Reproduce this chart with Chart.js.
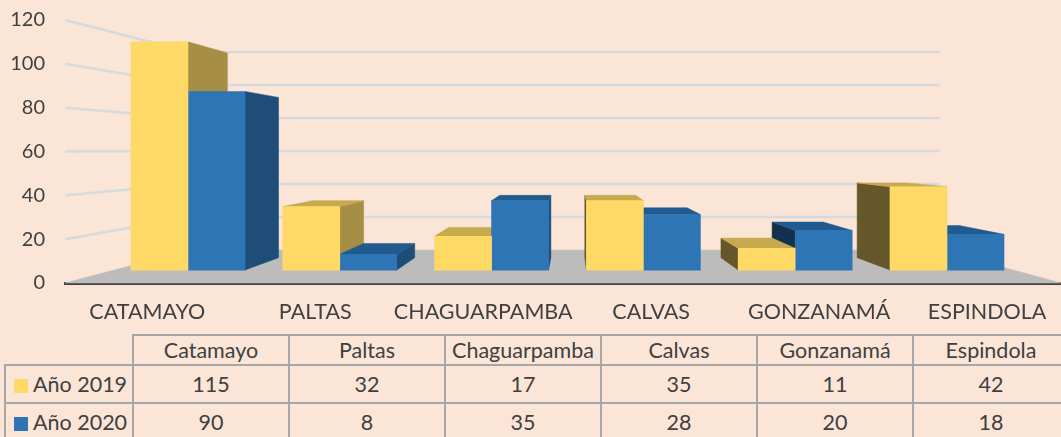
<!DOCTYPE html>
<html lang="es">
<head>
<meta charset="UTF-8">
<title>Año 2019 - Año 2020</title>
<script src="https://cdn.jsdelivr.net/npm/chart.js"></script>
<style>
  body {
    margin: 0;
    width: 1061px;
    height: 437px;
    overflow: hidden;
    position: relative;
    background: #FBE5D6;
    font-family: Lato, sans-serif;
    color: #404040;
  }
  #caja-grafico {
    position: absolute;
    left: 0;
    top: 0;
    width: 1061px;
    height: 333px;
  }
  #tabla {
    position: absolute;
    left: 4px;
    top: 334px;
    width: 1066px;
    border-collapse: collapse;
    table-layout: fixed;
    font-size: 21.5px;
  }
  #tabla td {
    border: 2px solid #A6A6A6;
    text-align: center;
    padding: 0;
    white-space: nowrap;
    overflow: hidden;
  }
  #tabla tr.cabecera td { height: 28px; }
  #tabla tr.datos td { height: 36px; }
  #tabla td.esquina { border-top: none; border-left: none; }
  #tabla td.serie { text-align: left; }
  .clave {
    display: inline-block;
    width: 14px;
    height: 14px;
    margin: 0 5px 0 8px;
    vertical-align: -1px;
  }
</style>
</head>
<body>

<div id="caja-grafico">
  <canvas id="grafico"></canvas>
</div>

<table id="tabla">
  <colgroup>
    <col style="width:128px">
    <col style="width:156px"><col style="width:156px"><col style="width:156px">
    <col style="width:156px"><col style="width:156px"><col style="width:156px">
  </colgroup>
  <tbody id="cuerpo"></tbody>
</table>

<script>
// datos
var municipiosEje = ['CATAMAYO', 'PALTAS', 'CHAGUARPAMBA', 'CALVAS', 'GONZANAMÁ', 'ESPINDOLA'];
var municipios = ['Catamayo', 'Paltas', 'Chaguarpamba', 'Calvas', 'Gonzanamá', 'Espindola'];
var series = ['Año 2019', 'Año 2020'];
var anio2019 = [115, 32, 17, 35, 11, 42];
var anio2020 = [90, 8, 35, 28, 20, 18];
var ticksY = [0, 20, 40, 60, 80, 100, 120];

// colores: frente, lado derecho, lado izquierdo, techo
var colores = [
    { frente: '#FFD966', der: '#A68F45', izq: '#66572A', techo: '#C7A94E' },
    { frente: '#2E75B6', der: '#1F4D79', izq: '#13304F', techo: '#215A8F' }
];

// perspectiva tipo excel 3D
var PF = { x: 571, y: 149.4 };   // punto de fuga
var FONDO_BARRA = 0.897;          // cara trasera de las barras
var PARED = 0.753;                // pared del fondo

Chart.defaults.font.family = 'Lato';
Chart.defaults.font.size = 20;
Chart.defaults.color = '#404040';

function atras(x, y, k) {
    return [PF.x + (x - PF.x) * k, PF.y + (y - PF.y) * k];
}

function poligono(ctx, puntos, color) {
    ctx.beginPath();
    ctx.moveTo(puntos[0][0], puntos[0][1]);
    for (var i = 1; i < puntos.length; i++) ctx.lineTo(puntos[i][0], puntos[i][1]);
    ctx.closePath();
    ctx.fillStyle = color;
    ctx.strokeStyle = color;
    ctx.lineWidth = 0.5;
    ctx.fill();
    ctx.stroke();
}

var efecto3d = {
    id: 'efecto3d',
    beforeDatasetsDraw: function (chart) {
        var ctx = chart.ctx;
        var area = chart.chartArea;
        var yt = chart.scales.yTicks;
        ctx.save();

        // piso
        var y0 = yt.getPixelForValue(0);
        var a = atras(area.left, y0, PARED);
        var b = atras(area.right, y0, PARED);
        poligono(ctx, [[area.left, y0], a, b, [area.right, y0]], '#BCBCBC');

        // lineas de la pared
        ctx.strokeStyle = '#D5DADF';
        ctx.lineWidth = 2.5;
        yt.ticks.forEach(function (t) {
            if (t.value === 0) return;
            var yy = yt.getPixelForValue(t.value);
            var p = atras(area.left, yy, PARED);
            var q = atras(area.right, yy, PARED);
            ctx.beginPath();
            ctx.moveTo(area.left, yy);
            ctx.lineTo(p[0], p[1]);
            ctx.lineTo(q[0], p[1]);
            ctx.stroke();
        });

        // caras laterales y techos de las barras
        var barras = [];
        chart.data.datasets.forEach(function (ds, d) {
            chart.getDatasetMeta(d).data.forEach(function (el) {
                barras.push({ el: el, c: colores[d] });
            });
        });
        barras.sort(function (m, n) {
            return Math.abs(n.el.x - PF.x) - Math.abs(m.el.x - PF.x);
        });
        barras.forEach(function (bb) {
            var el = bb.el;
            var x1 = el.x - el.width / 2, x2 = el.x + el.width / 2;
            var top = el.y, base = el.base;
            if (x2 < PF.x) {
                var t2 = atras(x2, top, FONDO_BARRA), b2 = atras(x2, base, FONDO_BARRA);
                poligono(ctx, [[x2, top], t2, b2, [x2, base]], bb.c.der);
            }
            if (x1 > PF.x) {
                var t1 = atras(x1, top, FONDO_BARRA), b1 = atras(x1, base, FONDO_BARRA);
                poligono(ctx, [[x1, top], t1, b1, [x1, base]], bb.c.izq);
            }
            if (top > PF.y) {
                poligono(ctx, [[x1, top], [x2, top], atras(x2, top, FONDO_BARRA), atras(x1, top, FONDO_BARRA)], bb.c.techo);
            }
        });
        ctx.restore();
    }
};

function puntos(valores) {
    return valores.map(function (v, i) { return { x: i, y: v }; });
}

var config = {
    type: 'bar',
    data: {
        datasets: [
            { label: series[0], data: puntos(anio2019), backgroundColor: colores[0].frente, xAxisID: 'xb', yAxisID: 'y' },
            { label: series[1], data: puntos(anio2020), backgroundColor: colores[1].frente, xAxisID: 'xb', yAxisID: 'y' }
        ]
    },
    options: {
        responsive: true,
        maintainAspectRatio: false,
        animation: false,
        events: [],
        barThickness: 57,
        borderWidth: 0,
        layout: { padding: { top: 20, left: 0, right: 0, bottom: 0 } },
        plugins: {
            legend: { display: false },
            tooltip: { enabled: false },
            title: { display: false }
        },
        scales: {
            // plano de las barras
            xb: { type: 'linear', display: false, offset: false, min: -0.81, max: 5.751 },
            y: { type: 'linear', display: false, min: -6.5, max: 126 },
            // plano de las etiquetas
            xl: {
                type: 'linear',
                position: 'bottom',
                offset: false,
                min: -0.49,
                max: 5.44,
                grid: { display: false, drawTicks: false },
                border: { display: true, color: '#404040', width: 3 },
                afterBuildTicks: function (s) {
                    s.ticks = municipiosEje.map(function (m, i) { return { value: i }; });
                },
                afterFit: function (s) {
                    s.height = 50;
                    s.paddingLeft = 0;
                    s.paddingRight = 0;
                },
                ticks: {
                    autoSkip: false,
                    maxRotation: 0,
                    padding: 16,
                    font: { size: 21.5 },
                    callback: function (v) { return municipiosEje[v]; }
                }
            },
            yTicks: {
                type: 'linear',
                position: 'left',
                min: 0,
                max: 120,
                grid: { display: false, drawTicks: false },
                border: { display: false },
                afterBuildTicks: function (s) {
                    s.ticks = ticksY.map(function (v) { return { value: v }; });
                },
                afterFit: function (s) {
                    s.width = 65;
                    s.paddingTop = 0;
                    s.paddingBottom = 0;
                },
                ticks: { padding: 20 }
            }
        }
    },
    plugins: [efecto3d]
};

new Chart(document.getElementById('grafico'), config);

// tabla de datos
var filas = '<tr class="cabecera"><td class="esquina"></td>';
municipios.forEach(function (m) { filas += '<td>' + m + '</td>'; });
filas += '</tr>';
[anio2019, anio2020].forEach(function (serie, s) {
    filas += '<tr class="datos"><td class="serie"><span class="clave" style="background:' + colores[s].frente + '"></span>' + series[s] + '</td>';
    serie.forEach(function (v) { filas += '<td>' + v + '</td>'; });
    filas += '</tr>';
});
document.getElementById('cuerpo').innerHTML = filas;
</script>
</body>
</html>
